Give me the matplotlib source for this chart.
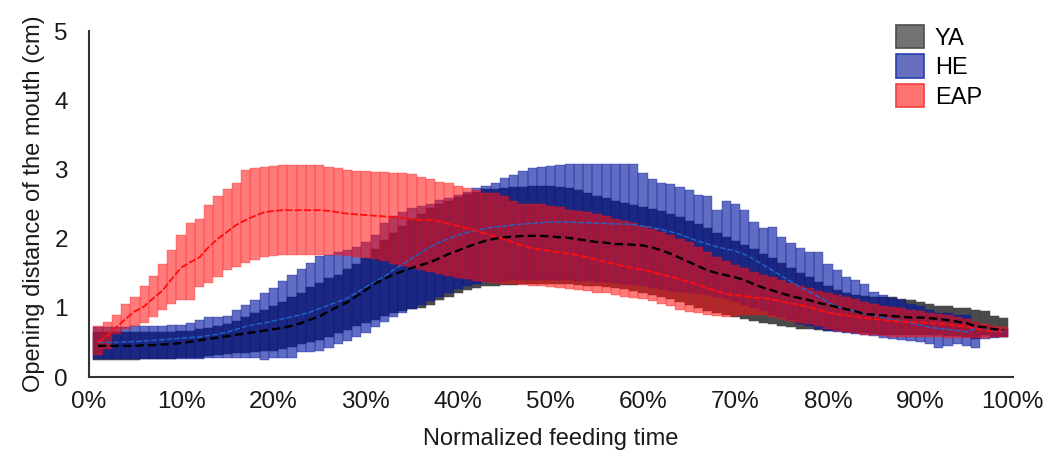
import matplotlib
matplotlib.use("Agg")
import matplotlib.pyplot as plt
import numpy as np
from matplotlib.patches import Patch

plt.rcParams['font.family'] = ['Liberation Sans', 'DejaVu Sans']

time_pct = list(range(1, 100))
tick_labels = [f"{v}%" for v in range(0, 101, 10)]
series_names = ["YA", "HE", "EAP"]

ya_mean = [0.45,0.45,0.45,0.45,0.45,0.46,0.46,0.47,0.48,0.49,
 0.51,0.53,0.55,0.57,0.59,0.61,0.63,0.65,0.67,0.69,
 0.71,0.74,0.78,0.83,0.88,0.95,1.02,1.08,1.17,1.26,
 1.35,1.42,1.48,1.53,1.58,1.62,1.66,1.72,1.78,1.83,
 1.88,1.93,1.97,2.00,2.02,2.03,2.04,2.04,2.04,2.03,
 2.02,2.01,1.99,1.97,1.95,1.94,1.92,1.92,1.91,1.90,
 1.87,1.83,1.78,1.72,1.66,1.60,1.54,1.50,1.47,1.44,
 1.40,1.34,1.29,1.25,1.21,1.17,1.14,1.11,1.07,1.04,
 1.01,0.98,0.95,0.91,0.90,0.89,0.88,0.87,0.86,0.86,
 0.85,0.84,0.82,0.80,0.78,0.73,0.72,0.69,0.68]
ya_hi = [0.65,0.65,0.65,0.65,0.65,0.65,0.65,0.65,0.65,0.66,
 0.66,0.69,0.71,0.73,0.76,0.81,0.87,0.92,0.97,1.02,
 1.08,1.16,1.22,1.30,1.36,1.43,1.48,1.56,1.63,1.72,
 1.85,1.98,2.08,2.18,2.28,2.36,2.44,2.50,2.55,2.60,
 2.64,2.68,2.71,2.72,2.73,2.74,2.75,2.76,2.76,2.76,
 2.75,2.73,2.70,2.66,2.62,2.59,2.55,2.52,2.49,2.46,
 2.43,2.40,2.36,2.31,2.26,2.21,2.15,2.08,2.02,1.97,
 1.91,1.85,1.78,1.72,1.65,1.58,1.51,1.45,1.38,1.31,
 1.26,1.22,1.19,1.17,1.16,1.16,1.15,1.12,1.11,1.09,
 1.05,1.03,1.02,1.00,0.99,0.97,0.96,0.88,0.85]
ya_lo = [0.24,0.25,0.25,0.25,0.25,0.26,0.26,0.26,0.26,0.27,
 0.27,0.28,0.30,0.32,0.33,0.34,0.35,0.36,0.37,0.38,
 0.40,0.43,0.47,0.50,0.54,0.58,0.63,0.68,0.73,0.78,
 0.83,0.88,0.92,0.95,0.98,1.00,1.04,1.11,1.16,1.21,
 1.26,1.28,1.31,1.31,1.33,1.33,1.34,1.34,1.34,1.34,
 1.34,1.34,1.33,1.32,1.31,1.30,1.29,1.27,1.24,1.21,
 1.18,1.15,1.12,1.08,1.04,1.00,0.96,0.93,0.90,0.87,
 0.84,0.81,0.78,0.76,0.74,0.72,0.70,0.69,0.68,0.67,
 0.66,0.65,0.64,0.63,0.62,0.61,0.60,0.60,0.60,0.60,
 0.60,0.60,0.59,0.59,0.58,0.55,0.60,0.58,0.58]

he_mean = [0.50,0.50,0.50,0.51,0.51,0.52,0.53,0.54,0.55,0.56,
 0.57,0.58,0.60,0.62,0.65,0.69,0.73,0.76,0.78,0.81,
 0.84,0.87,0.90,0.94,0.99,1.04,1.09,1.14,1.22,1.30,
 1.38,1.45,1.55,1.63,1.72,1.80,1.88,1.95,2.00,2.05,
 2.09,2.12,2.15,2.17,2.18,2.20,2.21,2.22,2.23,2.24,
 2.24,2.24,2.23,2.23,2.22,2.22,2.21,2.21,2.20,2.18,
 2.16,2.13,2.10,2.06,2.01,1.96,1.92,1.88,1.85,1.82,
 1.77,1.70,1.62,1.54,1.46,1.38,1.30,1.23,1.16,1.08,
 1.02,0.98,0.95,0.92,0.89,0.86,0.83,0.81,0.78,0.75,
 0.72,0.70,0.69,0.67,0.65,0.70,0.68,0.66,0.65]
he_hi = [0.72,0.72,0.72,0.72,0.73,0.74,0.74,0.74,0.75,0.75,
 0.78,0.82,0.87,0.87,0.88,0.97,1.04,1.11,1.21,1.28,
 1.39,1.48,1.56,1.65,1.75,1.77,1.80,1.83,1.88,1.95,
 2.05,2.22,2.32,2.39,2.44,2.47,2.50,2.56,2.58,2.63,
 2.68,2.73,2.76,2.81,2.87,2.92,2.98,3.02,3.04,3.05,
 3.06,3.08,3.08,3.08,3.08,3.08,3.08,3.08,3.08,2.95,
 2.86,2.81,2.79,2.75,2.70,2.63,2.61,2.41,2.54,2.50,
 2.41,2.24,2.15,2.17,2.03,1.93,1.86,1.80,1.80,1.64,
 1.55,1.45,1.40,1.35,1.23,1.18,1.14,1.11,1.06,1.02,
 0.97,0.93,0.92,0.90,0.90,0.78,0.73,0.71,0.69]
he_lo = [0.26,0.26,0.26,0.26,0.26,0.26,0.26,0.26,0.26,0.26,
 0.26,0.26,0.27,0.27,0.27,0.27,0.27,0.27,0.25,0.27,
 0.28,0.28,0.36,0.36,0.38,0.42,0.47,0.52,0.58,0.64,
 0.72,0.80,0.87,0.93,0.98,1.04,1.10,1.16,1.22,1.27,
 1.32,1.35,1.37,1.38,1.39,1.40,1.40,1.40,1.40,1.40,
 1.40,1.40,1.39,1.39,1.38,1.37,1.36,1.35,1.33,1.31,
 1.29,1.27,1.25,1.23,1.21,1.20,1.18,1.15,1.12,1.08,
 1.04,1.00,0.95,0.90,0.86,0.82,0.76,0.73,0.70,0.67,
 0.65,0.63,0.62,0.60,0.59,0.57,0.55,0.53,0.52,0.50,
 0.47,0.42,0.45,0.47,0.45,0.42,0.55,0.57,0.58]

eap_mean = [0.50,0.60,0.72,0.84,0.95,1.02,1.14,1.25,1.42,1.58,
 1.66,1.73,1.88,2.00,2.10,2.20,2.27,2.33,2.38,2.40,
 2.41,2.41,2.41,2.41,2.41,2.40,2.38,2.36,2.35,2.34,
 2.33,2.32,2.31,2.30,2.28,2.27,2.27,2.25,2.21,2.18,
 2.15,2.11,2.07,2.03,1.99,1.94,1.90,1.86,1.84,1.82,
 1.80,1.78,1.76,1.73,1.69,1.66,1.63,1.60,1.57,1.55,
 1.52,1.48,1.45,1.41,1.37,1.33,1.28,1.24,1.20,1.18,
 1.17,1.15,1.14,1.12,1.09,1.06,1.04,1.01,0.97,0.93,
 0.91,0.89,0.87,0.85,0.84,0.82,0.81,0.80,0.79,0.79,
 0.78,0.77,0.76,0.74,0.73,0.70,0.67,0.66,0.66]
eap_hi = [0.73,0.80,0.90,1.05,1.16,1.31,1.46,1.64,1.84,2.05,
 2.22,2.29,2.49,2.61,2.71,2.81,2.99,3.02,3.04,3.05,
 3.06,3.06,3.07,3.07,3.06,3.04,3.02,2.99,2.98,2.97,
 2.96,2.96,2.95,2.95,2.93,2.89,2.86,2.82,2.80,2.76,
 2.73,2.70,2.66,2.66,2.61,2.54,2.50,2.50,2.50,2.47,
 2.45,2.42,2.40,2.38,2.35,2.32,2.29,2.26,2.22,2.18,
 2.14,2.10,2.05,2.00,1.95,1.88,1.80,1.73,1.67,1.62,
 1.57,1.52,1.48,1.44,1.40,1.36,1.32,1.28,1.25,1.21,
 1.18,1.15,1.12,1.09,1.06,1.03,1.01,0.99,0.97,0.95,
 0.93,0.91,0.89,0.87,0.84,0.80,0.76,0.73,0.72]
eap_lo = [0.32,0.40,0.62,0.70,0.73,0.78,0.87,0.97,1.06,1.11,
 1.11,1.30,1.36,1.45,1.54,1.59,1.65,1.69,1.73,1.75,
 1.76,1.76,1.76,1.76,1.76,1.76,1.76,1.75,1.74,1.72,
 1.70,1.67,1.64,1.61,1.58,1.55,1.52,1.49,1.46,1.43,
 1.41,1.39,1.37,1.36,1.35,1.34,1.33,1.32,1.31,1.30,
 1.28,1.27,1.26,1.24,1.22,1.21,1.19,1.16,1.14,1.12,
 1.10,1.05,1.02,0.97,0.94,0.92,0.90,0.88,0.87,0.88,
 0.89,0.90,0.89,0.86,0.84,0.81,0.78,0.76,0.73,0.70,
 0.67,0.65,0.63,0.61,0.60,0.59,0.58,0.58,0.58,0.58,
 0.58,0.58,0.57,0.57,0.57,0.57,0.57,0.58,0.58]

fig = plt.figure(figsize=(10.57, 4.59), dpi=100)
ax = fig.add_axes([88.7/1057, 1-377/459, 924/1057, 346/459])

x = np.array(time_pct)

def band(lo, hi, face, edge, alpha, z):
    lo = np.array(lo); hi = np.array(hi)
    ax.bar(x, hi - lo, bottom=lo, width=1.0, color=face, alpha=alpha,
           edgecolor=edge, linewidth=0.35, zorder=z)

band(ya_lo, ya_hi, (0.29, 0.29, 0.30), (0.27, 0.27, 0.28), 1.0, 1)
band(he_lo, he_hi, (0.0, 0.08, 0.62), (0.0, 0.08, 0.62), 0.62, 2)
band(eap_lo, eap_hi, (1.0, 0.06, 0.06), (1.0, 0.06, 0.06), 0.55, 3)

ax.plot(x, he_mean, color=(0.12, 0.40, 0.80), lw=1.0, ls=(0, (4, 1.5)), zorder=4)
ax.plot(x, eap_mean, color=(1.0, 0.05, 0.05), lw=1.3, ls=(0, (4, 1.2)), zorder=5)
ax.plot(x, ya_mean, color='black', lw=1.7, ls=(0, (3.5, 1.8)), zorder=6)

ax.set_xlim(0, 100)
ax.set_ylim(0, 5)
ax.set_xticks(range(0, 101, 10))
ax.set_xticklabels(tick_labels)
ax.set_yticks(range(0, 6))
ax.tick_params(axis='both', length=0, labelsize=17.5, colors='#1a1a1a')
ax.tick_params(axis='x', pad=10)
ax.tick_params(axis='y', pad=15)
for s in ['top', 'right']:
    ax.spines[s].set_visible(False)
for s in ['left', 'bottom']:
    ax.spines[s].set_color('#333333')
    ax.spines[s].set_linewidth(1.5)

ax.set_xlabel("Normalized feeding time", fontsize=17, labelpad=11, color='#1a1a1a')
ax.set_ylabel("Opening distance of the mouth (cm)", fontsize=17, labelpad=7, color='#1a1a1a')

handles = [
    Patch(facecolor=(0.45, 0.45, 0.45), edgecolor=(0.3, 0.3, 0.3), lw=1.2),
    Patch(facecolor=(0.40, 0.43, 0.74), edgecolor=(0.15, 0.25, 0.70), lw=1.2),
    Patch(facecolor=(1.0, 0.45, 0.45), edgecolor=(0.95, 0.25, 0.25), lw=1.2),
]
fig.legend(handles, series_names, loc='upper left',
           bbox_to_anchor=(896/1057, 1-25/459), frameon=False, fontsize=17,
           handlelength=1.2, handleheight=1.15, labelspacing=0.2,
           handletextpad=0.45, borderpad=0, borderaxespad=0)

fig.savefig("out.png", dpi=100)
